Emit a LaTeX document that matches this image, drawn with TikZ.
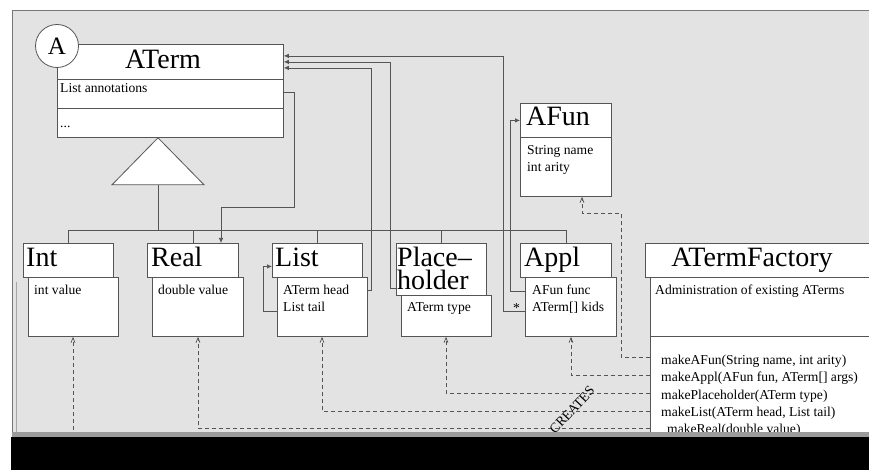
\documentclass[tikz,border=0pt]{standalone}
\usepackage{fontspec}
\setmainfont{Liberation Serif}
\usetikzlibrary{arrows.meta,calc}
\definecolor{canvasgray}{RGB}{227,227,227}
\definecolor{linegray}{RGB}{85,85,85}
\definecolor{stripgray}{RGB}{155,155,155}
\newcommand\titlefont{\fontsize{28}{28}\selectfont}
\newcommand\attrfont{\fontsize{13.6}{17.5}\selectfont}
\newcommand\badgefont{\fontsize{25}{25}\selectfont}

\begin{document}
\begin{tikzpicture}[
  x=1pt, y=-1pt,
  cbox/.style={
    draw=linegray,
    fill=white,
    line width=0.8pt,
    anchor=north west,
    inner sep=0pt
  },
  ttl/.style={font=\titlefont, anchor=base west, inner sep=0pt},
  attr/.style={font=\attrfont, anchor=base west, inner sep=0pt},
  link/.style={draw=linegray, line width=0.7pt},
  toaterm/.style={link, -{Latex[length=5pt,width=4.5pt]}},
  creates/.style={link, dash pattern=on 4pt off 3pt, -{Straight Barb[length=5pt,width=4pt]}}
]
\useasboundingbox (0,0) rectangle (869,470);
\clip (0,0) rectangle (869,470);
\fill[canvasgray] (12,10) rectangle (869,437);
\draw[linegray!80, line width=0.8pt] (869,10) -- (12,10) -- (12,437);
\draw[gray!70, line width=0.8pt] (16,282) -- (16,432);

% ATerm
\node[cbox, minimum width=226, minimum height=35] (atermtitle) at (57,44) {};
\node[cbox, minimum width=226, minimum height=29] (atermattr) at (57,79) {};
\node[cbox, minimum width=226, minimum height=29] (atermmeth) at (57,108) {};
\node[draw=linegray, fill=white, line width=0.8pt, circle, minimum size=43, inner sep=0pt, font=\badgefont] (abadge) at (57,46) {A};
\node[ttl, anchor=base] (atermname) at (163,69) {ATerm};
\node[attr] (annot) at (60,93) {List annotations};
\node[attr] (atermdots) at (60,128) {...};

% AFun
\node[cbox, minimum width=91, minimum height=34] (afuntitle) at (520,103) {};
\node[cbox, minimum width=91, minimum height=59] (afunattr) at (520,137) {};
\node[ttl] (afunname) at (526,126) {AFun};
\node[attr] (afunsname) at (527,155) {String name};
\node[attr] (afunarity) at (527,172) {int arity};

% subclasses
\node[cbox, minimum width=90, minimum height=34] (inttitle) at (23,243) {};
\node[cbox, minimum width=90, minimum height=59] (intattr) at (28,277) {};
\node[ttl] (intname) at (26,266) {Int};
\node[attr] (intval) at (34,294) {int value};

\node[cbox, minimum width=91, minimum height=34] (realtitle) at (147,243) {};
\node[cbox, minimum width=91, minimum height=59] (realattr) at (152,277) {};
\node[ttl] (realname) at (151,266) {Real};
\node[attr] (realval) at (158,294) {double value};

\node[cbox, minimum width=90, minimum height=34] (listtitle) at (272,243) {};
\node[cbox, minimum width=90, minimum height=59] (listattr) at (277,277) {};
\node[ttl] (listname) at (275,266) {List};
\node[attr] (listhead) at (283,294) {ATerm head};
\node[attr] (listtail) at (283,311) {List tail};

\node[cbox, minimum width=90, minimum height=52] (placetitle) at (396,243) {};
\node[ttl] (placename) at (397,266) {Place–};
\node[ttl] (placename2) at (397,289) {holder};
\node[cbox, minimum width=90, minimum height=41] (placeattr) at (401,295) {};
\node[attr] (placetype) at (407,311) {ATerm type};

\node[cbox, minimum width=91, minimum height=34] (appltitle) at (520,243) {};
\node[cbox, minimum width=91, minimum height=59] (applattr) at (525,277) {};
\node[ttl] (applname) at (524,266) {Appl};
\node[attr] (applfunc) at (532,294) {AFun func};
\node[attr] (applkids) at (532,311) {ATerm[] kids};
\node[attr] (kidsstar) at (513,312) {*};

% factory
\node[cbox, minimum width=240, minimum height=34] (factitle) at (645,243) {};
\node[cbox, minimum width=240, minimum height=59] (facattr) at (650,277) {};
\node[cbox, minimum width=240, minimum height=110] (facmeth) at (650,336) {};
\node[ttl, anchor=base] (facname) at (752,266) {ATermFactory};
\node[attr] (facadmin) at (655,294) {Administration of existing ATerms};
\node[attr] (mkafun) at (661,364) {makeAFun(String name, int arity)};
\node[attr] (mkappl) at (661,381) {makeAppl(AFun fun, ATerm[] args)};
\node[attr] (mkplace) at (661,399) {makePlaceholder(ATerm type)};
\node[attr] (mklist) at (661,416) {makeList(ATerm head, List tail)};
\node[attr] (mkreal) at (667,433) {makeReal(double value)};

% generalization
\coordinate (genapex) at (158,0 |- atermmeth.south);
\draw[draw=linegray, fill=white, line width=0.8pt] (genapex) -- ++(46,47) -- ++(-92,0) -- cycle;
\coordinate (genbase) at ($(genapex)+(0,47)$);
\coordinate (bus) at ($(genbase)+(0,46)$);
\foreach \c in {inttitle,realtitle,listtitle,placetitle,appltitle}
  \draw[link] (genbase) -- (bus) -| (\c.north);

% associations
\coordinate (in1) at ([yshift=6pt]atermtitle.east);
\coordinate (in2) at (atermtitle.east);
\coordinate (in3) at ([yshift=-6pt]atermtitle.east);
\draw[toaterm] ([yshift=-4pt]applattr.west) -| (503,0 |- in1) -- (in1);
\draw[toaterm] ([yshift=-19pt]placetitle.west) -- ++(-6,0) |- (in2);
\draw[toaterm] ([yshift=17pt]listattr.east) -- ++(4,0) |- (in3);
\draw[toaterm] ([yshift=-4pt]listattr.west) -- ++(-14,0) |- ([yshift=-6pt]listtitle.west);
\draw[toaterm] ([yshift=16pt]applattr.west) -- ++(-15,0) |- (afuntitle.west);
\draw[toaterm] ([yshift=2pt]atermattr.east) -- ++(11,0) |- (221,207) -- (221,0 |- realtitle.north);

% creates
\draw[creates] ([yshift=34pt]facmeth.west) -| (621,213) -| (582,0 |- afunattr.south);
\draw[creates] ([yshift=16pt]facmeth.west) -| (571,0 |- applattr.south);
\draw[creates] ([yshift=-2pt]facmeth.west) -| (446,0 |- placeattr.south);
\draw[creates] ([yshift=-20pt]facmeth.west) -| (322,0 |- listattr.south);
\draw[creates] ([yshift=-37pt]facmeth.west) -| (198,0 |- realattr.south);
\coordinate (intfoot) at (73,437);
\draw[creates] (intfoot) -- (73,0 |- intattr.south);
\node[attr, anchor=center, rotate=47] (createslabel) at (572,410) {CREATES};

\fill[stripgray] (12,432) rectangle (869,437);
\fill[black] (11,437) rectangle (869,470);
\end{tikzpicture}
\end{document}
